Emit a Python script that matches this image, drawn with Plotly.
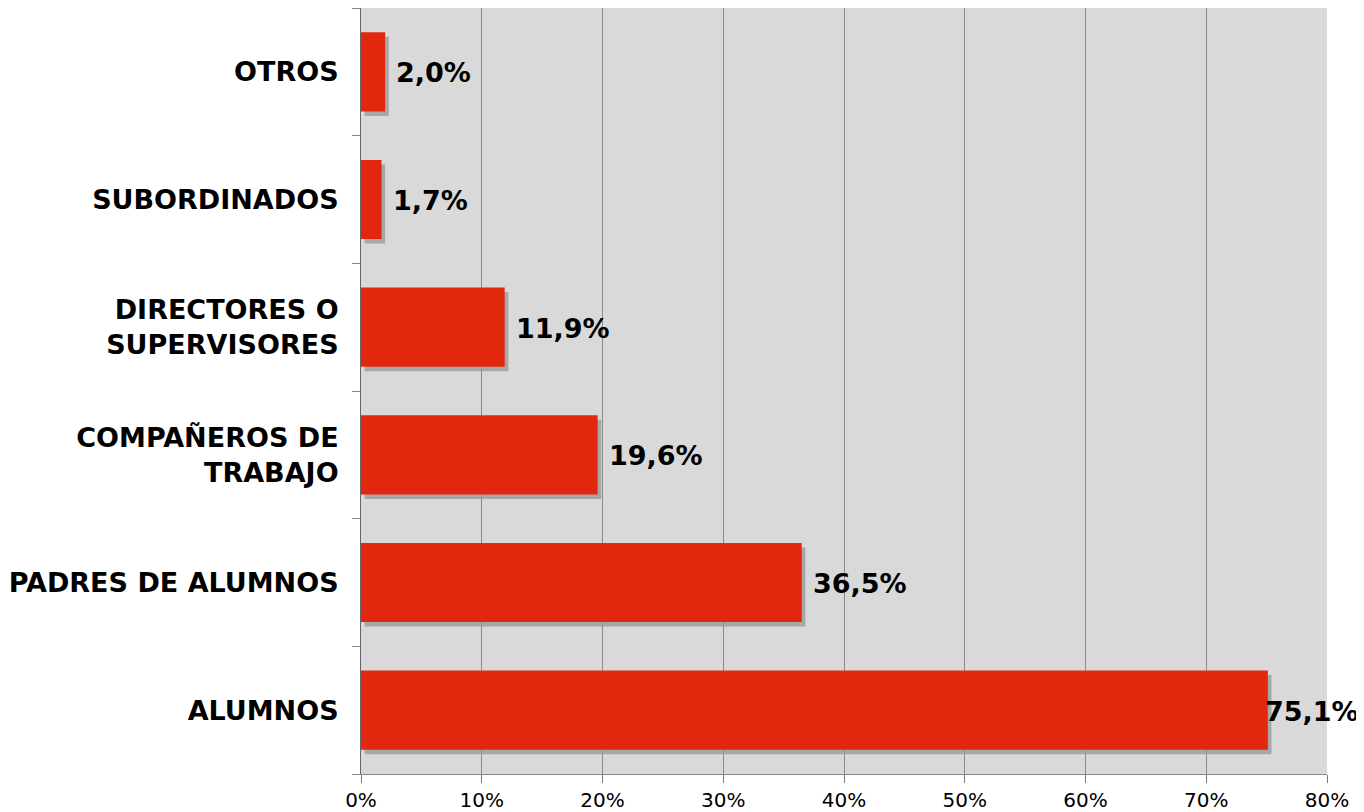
import plotly.graph_objects as go

categories = ["ALUMNOS", "PADRES DE ALUMNOS", "COMPAÑEROS DE<br>TRABAJO",
              "DIRECTORES O<br>SUPERVISORES", "SUBORDINADOS", "OTROS"]
values = [75.1, 36.5, 19.6, 11.9, 1.7, 2.0]
value_labels = ["75,1%", "36,5%", "19,6%", "11,9%", "1,7%", "2,0%"]
x_ticks = [0, 10, 20, 30, 40, 50, 60, 70, 80]
x_tick_labels = ["0%", "10%", "20%", "30%", "40%", "50%", "60%", "70%", "80%"]

RED = "#e1280f"
BG = "#d9d9d9"
FONT = "DejaVu Sans"

fig = go.Figure()

# shadow
fig.add_trace(go.Bar(
    y=categories, x=values, base=0.3, orientation="h",
    width=0.62, offset=-0.345, marker=dict(color="rgba(150,150,150,0.75)", line=dict(width=0)),
    hoverinfo="skip", showlegend=False))
# bars
fig.add_trace(go.Bar(
    y=categories, x=values, orientation="h",
    width=0.62, offset=-0.31, marker=dict(color=RED, line=dict(width=0)),
    showlegend=False))

# invisible trace for boundary tick axis
fig.add_trace(go.Scatter(x=[0], y=[0], yaxis="y2", mode="markers",
                         marker=dict(opacity=0), hoverinfo="skip", showlegend=False))

for i, (v, t) in enumerate(zip(values, value_labels)):
    shift = 9 if v < 70 else -5
    fig.add_annotation(x=v, y=categories[i], text="<b>" + t + "</b>", showarrow=False,
                       xanchor="left", yanchor="middle", xshift=shift, yshift=-1,
                       font=dict(family=FONT, size=27, color="black"))

fig.update_layout(
    width=1356, height=804,
    margin=dict(l=353, r=37, t=0, b=38),
    paper_bgcolor="white", plot_bgcolor=BG,
    barmode="overlay",
    xaxis=dict(range=[0, 80], tickvals=x_ticks, ticktext=x_tick_labels,
               showgrid=True, gridcolor="#8a8a8a", gridwidth=1,
               ticks="outside", ticklen=8, tickcolor="#777",
               showline=True, linecolor="#888", linewidth=1, mirror=True,
               tickfont=dict(family=FONT, size=20, color="black"),
               zeroline=False, fixedrange=True),
    yaxis=dict(type="category", categoryorder="array", categoryarray=categories,
               range=[-0.5, 5.5], ticks="", showgrid=False,
               showline=True, linecolor="#666", linewidth=1,
               tickfont=dict(family=FONT, size=27, color="black", weight="bold"),
               ticklabelstandoff=16),
    yaxis2=dict(overlaying="y", range=[-0.5, 5.5], tickvals=[-0.5, 0.5, 1.5, 2.5, 3.5, 4.5, 5.5],
                showticklabels=False, ticks="outside", ticklen=8, tickcolor="#888",
                showgrid=False, zeroline=False, showline=False, side="left", anchor="x"),
)

fig.write_html("out.html")
